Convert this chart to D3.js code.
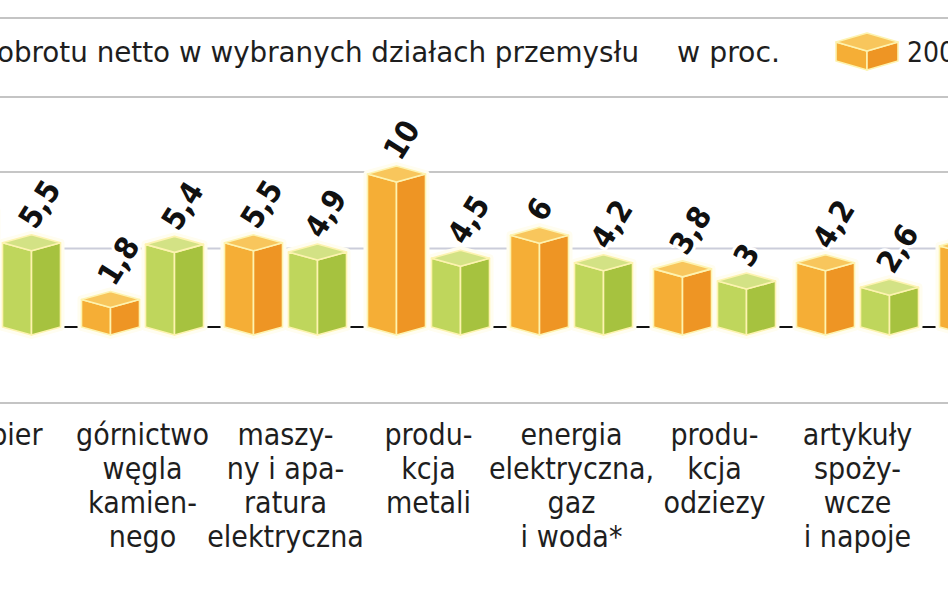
<!DOCTYPE html>
<html><head><meta charset="utf-8">
<script src="https://cdn.jsdelivr.net/npm/d3@7/dist/d3.min.js"></script>
<style>
html,body{margin:0;padding:0;background:#fff;overflow:hidden}
svg{display:block}
text{font-family:"DejaVu Sans Condensed","DejaVu Sans",sans-serif;fill:#1e1e1e}
</style></head>
<body>
<svg id="chart" width="948" height="593"></svg>
<script>
// ---- data ----
const years = ["2006", "2007"];
const categories = [
  "papier",
  "górnictwo węgla kamiennego",
  "maszyny i aparatura elektryczna",
  "produkcja metali",
  "energia elektryczna, gaz i woda*",
  "produkcja odziezy",
  "artykuły spożywcze i napoje",
  "koks i produkty rafinacji"
];
const labelLines = [
  ["papier"],
  ["górnictwo", "węgla", "kamien-", "nego"],
  ["maszy-", "ny i apa-", "ratura", "elektryczna"],
  ["produ-", "kcja", "metali"],
  ["energia", "elektryczna,", "gaz", "i woda*"],
  ["produ-", "kcja", "odziezy"],
  ["artykuły", "spoży-", "wcze", "i napoje"],
  ["koks", "i ropa", "rafinacji"]
];
const values2006 = [7.6, 1.8, 5.5, 10, 6, 3.8, 4.2, 5.3];
const values2007 = [5.5, 5.4, 4.9, 4.5, 4.2, 3, 2.6, 3.5];
const gridTicks = [5, 10];
const titleText = "obrotu netto w wybranych działach przemysłu";
const unitText = "w proc.";

// ---- setup ----
const W = 948, H = 593;
const svg = d3.select("#chart");
const pl = d3.formatLocale({decimal: ",", thousands: " ", grouping: [3], currency: ["", " zł"]});
const fmt = pl.format(".1~f");

const x = d3.scaleBand().domain(categories).range([-72, -72 + 143 * categories.length]).padding(0);
const xi = d3.scaleBand().domain(years).range([7.5, 135.5]).padding(0);
const y = d3.scaleLinear().domain([0, 10]).range([327, 174]);

const colors = {
  "2006": {left: "#F5AE36", right: "#EE9524", top: "#F8C65C"},
  "2007": {left: "#BFD65C", right: "#A6C23F", top: "#D3E285"}
};
const HW = 29, HH = 8;

// ---- header ----
svg.append("line").attr("x1", 0).attr("x2", W).attr("y1", 18).attr("y2", 18)
  .attr("stroke", "#c4c4c4").attr("stroke-width", 2);
svg.append("line").attr("x1", 0).attr("x2", W).attr("y1", 97).attr("y2", 97)
  .attr("stroke", "#c4c4c4").attr("stroke-width", 2);
svg.append("text").attr("x", -3).attr("y", 62).attr("font-size", 28)
  .attr("textLength", 642).attr("lengthAdjust", "spacingAndGlyphs").text(titleText);
svg.append("text").attr("x", 677).attr("y", 62).attr("font-size", 28)
  .attr("textLength", 103).attr("lengthAdjust", "spacingAndGlyphs").text(unitText);

function boxPaths(cx, yt, yb, hw, hh) {
  return {
    left: [[cx - hw, yt], [cx, yt + hh], [cx, yb + hh], [cx - hw, yb]],
    right: [[cx, yt + hh], [cx + hw, yt], [cx + hw, yb], [cx, yb + hh]],
    top: [[cx, yt - hh], [cx + hw, yt], [cx, yt + hh], [cx - hw, yt]],
    hull: [[cx, yt - hh], [cx + hw, yt], [cx + hw, yb], [cx, yb + hh], [cx - hw, yb], [cx - hw, yt]]
  };
}
const line = d3.line().curve(d3.curveLinearClosed);
function drawBox(g, cx, yt, yb, hw, hh, col, halo) {
  const p = boxPaths(cx, yt, yb, hw, hh);
  if (halo) g.append("path").attr("d", line(p.hull)).attr("fill", "#fff").attr("stroke", "#fffdf0").attr("stroke-width", halo).attr("stroke-linejoin", "round");
  ["left", "right", "top"].forEach(k => {
    g.append("path").attr("d", line(p[k])).attr("fill", col[k]).attr("stroke", "#fdf3b0")
      .attr("stroke-width", 1.6).attr("stroke-linejoin", "round");
  });
}

// legend
const leg = svg.append("g");
years.forEach((yr, i) => {
  const lx = 867 + i * 180;
  drawBox(leg, lx, 42, 61, 31, 9, colors[yr], 0);
  leg.append("text").attr("x", lx + 40).attr("y", 62).attr("font-size", 28).text(yr);
});

// ---- grid ----
svg.append("g").selectAll("line").data(gridTicks).join("line")
  .attr("x1", 0).attr("x2", W)
  .attr("y1", d => y(d) - 2).attr("y2", d => y(d) - 2)
  .attr("stroke", (d, i) => i === 0 ? "#cbcdda" : "#c6c6c6").attr("stroke-width", 2);

// baseline
svg.append("line").attr("x1", 0).attr("x2", W).attr("y1", y(0)).attr("y2", y(0))
  .attr("stroke", "#111").attr("stroke-width", 2);

// ---- bars ----
const rows = [];
categories.forEach((c, ci) => {
  years.forEach((yr, yi) => {
    const v = yi === 0 ? values2006[ci] : values2007[ci];
    rows.push({cat: c, year: yr, value: v, cx: x(c) + xi(yr) + xi.bandwidth() / 2});
  });
});
const barsG = svg.append("g");
rows.forEach(r => {
  drawBox(barsG.append("g"), r.cx, y(r.value), y(0), HW, HH, colors[r.year], 8);
});

// value labels
svg.append("g").selectAll("text").data(rows).join("text")
  .attr("transform", d => `translate(${d.cx + 4},${y(d.value) - HH - 4}) rotate(-58)`)
  .attr("font-family", "DejaVu Sans, sans-serif")
  .attr("font-weight", "bold").attr("font-size", 31)
  .attr("stroke", "#fff").attr("stroke-width", 6).attr("paint-order", "stroke")
  .attr("stroke-linejoin", "round")
  .style("fill", "#111")
  .text(d => fmt(d.value));

// ---- bottom separator ----
svg.append("line").attr("x1", 0).attr("x2", W).attr("y1", 403).attr("y2", 403)
  .attr("stroke", "#c4c4c4").attr("stroke-width", 2);

// category labels
const catG = svg.append("g");
categories.forEach((c, ci) => {
  const cx = x(c) + x.bandwidth() / 2;
  const t = catG.append("text").attr("text-anchor", "middle").attr("font-size", 30)
    .attr("x", cx).attr("y", 445);
  labelLines[ci].forEach((ln, li) => {
    t.append("tspan").attr("x", cx).attr("y", 445 + li * 34).text(ln);
  });
});
</script>
</body></html>
